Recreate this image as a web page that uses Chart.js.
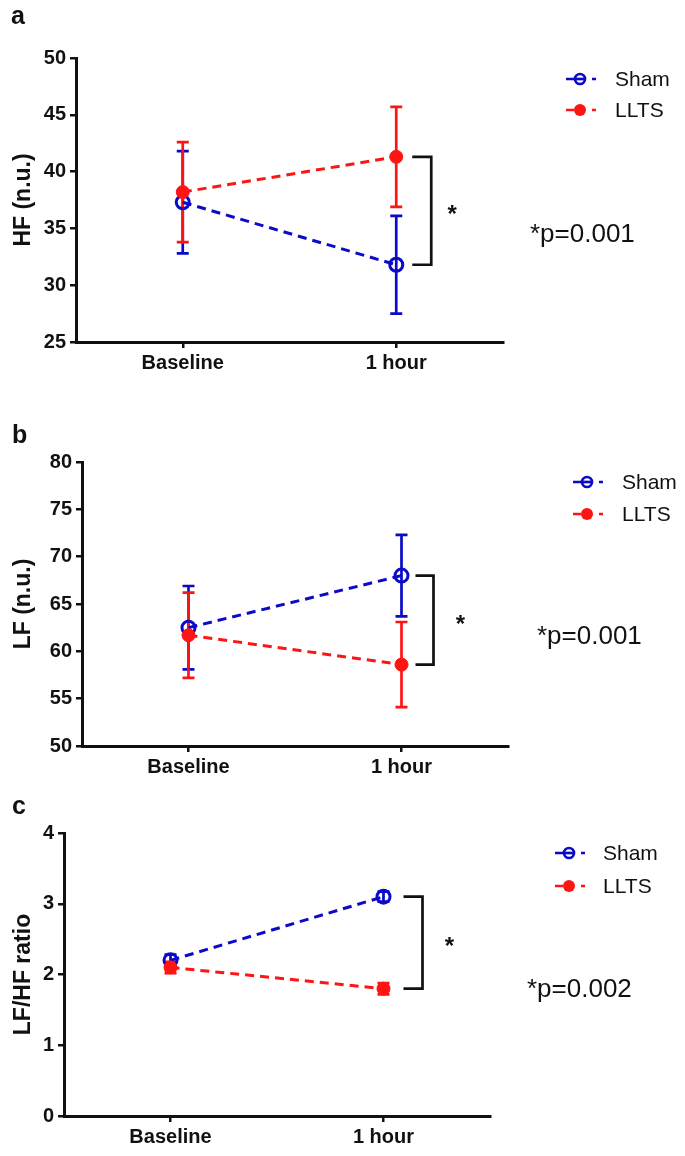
<!DOCTYPE html>
<html>
<head>
<meta charset="utf-8">
<script src="https://cdn.jsdelivr.net/npm/chart.js@4.4.0/dist/chart.umd.min.js"></script>
<style>
  body { margin: 0; background: #fff; width: 685px; height: 1156px; position: relative; overflow: hidden; }
  canvas { position: absolute; left: 0; }
</style>
</head>
<body>
<canvas id="chartA" width="685" height="380" style="top:0px"></canvas>
<canvas id="chartB" width="685" height="400" style="top:380px"></canvas>
<canvas id="chartC" width="685" height="376" style="top:780px"></canvas>
<script>
// Data (mean +/- error)
const timepoints = ['Baseline', '1 hour'];

const hfSham = [37.3, 31.8];
const hfShamErr = [4.5, 4.3];
const hfLlts = [38.2, 41.3];
const hfLltsErr = [4.4, 4.4];

const lfSham = [62.5, 68.0];
const lfShamErr = [4.4, 4.3];
const lfLlts = [61.7, 58.6];
const lfLltsErr = [4.5, 4.5];

const ratioSham = [2.2, 3.1];
const ratioShamErr = [0.08, 0.07];
const ratioLlts = [2.1, 1.8];
const ratioLltsErr = [0.08, 0.08];

const pValues = ['*p=0.001', '*p=0.001', '*p=0.002'];

const BLUE = '#0a0ac8';
const RED = '#ff1414';
const INK = '#111';
const FONT = "'Liberation Sans', Arial, sans-serif";

// error bars, bracket, legend, p value, panel letter
const extrasPlugin = {
    id: 'extras',
    beforeDatasetsDraw(chart) {
        const ctx = chart.ctx;
        const yScale = chart.scales.y;
        chart.data.datasets.forEach((ds, i) => {
            const meta = chart.getDatasetMeta(i);
            ctx.save();
            ctx.strokeStyle = ds.borderColor;
            ctx.lineWidth = 2.7;
            meta.data.forEach((pt, j) => {
                const top = yScale.getPixelForValue(ds.data[j] + ds.errors[j]);
                const bot = yScale.getPixelForValue(ds.data[j] - ds.errors[j]);
                ctx.beginPath();
                ctx.moveTo(pt.x, top); ctx.lineTo(pt.x, bot);
                ctx.moveTo(pt.x - 6, top); ctx.lineTo(pt.x + 6, top);
                ctx.moveTo(pt.x - 6, bot); ctx.lineTo(pt.x + 6, bot);
                ctx.stroke();
            });
            ctx.restore();
        });
    },
    afterDraw(chart, args, opts) {
        const ctx = chart.ctx;
        const yScale = chart.scales.y;
        const sham = chart.data.datasets[0];
        const llts = chart.data.datasets[1];
        const x1 = chart.getDatasetMeta(0).data[1].x;
        const yA = yScale.getPixelForValue(sham.data[1]);
        const yB = yScale.getPixelForValue(llts.data[1]);

        ctx.save();
        // significance bracket
        ctx.strokeStyle = INK;
        ctx.lineWidth = 2.7;
        ctx.beginPath();
        ctx.moveTo(x1 + opts.bracket[0], yA);
        ctx.lineTo(x1 + opts.bracket[1], yA);
        ctx.lineTo(x1 + opts.bracket[1], yB);
        ctx.lineTo(x1 + opts.bracket[0], yB);
        ctx.stroke();
        ctx.fillStyle = INK;
        ctx.font = 'bold 24px ' + FONT;
        ctx.textAlign = 'center';
        ctx.textBaseline = 'middle';
        ctx.fillText('*', x1 + opts.bracket[2], (yA + yB) / 2 + 5);

        // legend
        const lg = opts.legend;
        const rows = [
            { label: sham.label, color: BLUE, open: true, y: lg.y[0] },
            { label: llts.label, color: RED, open: false, y: lg.y[1] }
        ];
        rows.forEach(r => {
            ctx.strokeStyle = r.color;
            ctx.fillStyle = r.color;
            ctx.lineWidth = 2.7;
            ctx.beginPath();
            ctx.moveTo(lg.x - 14, r.y); ctx.lineTo(lg.x - 6, r.y);
            ctx.moveTo(lg.x + 12, r.y); ctx.lineTo(lg.x + 16, r.y);
            ctx.stroke();
            ctx.beginPath();
            if (r.open) {
                ctx.arc(lg.x, r.y, 5, 0, Math.PI * 2);
                ctx.stroke();
                ctx.beginPath();
                ctx.moveTo(lg.x - 5, r.y); ctx.lineTo(lg.x + 5, r.y);
                ctx.stroke();
            } else {
                ctx.arc(lg.x, r.y, 6, 0, Math.PI * 2);
                ctx.fill();
            }
            ctx.fillStyle = INK;
            ctx.font = '21px ' + FONT;
            ctx.textAlign = 'left';
            ctx.textBaseline = 'middle';
            ctx.fillText(r.label, lg.textX, r.y + 1);
        });

        // p value
        ctx.fillStyle = INK;
        ctx.font = '26px ' + FONT;
        ctx.textAlign = 'left';
        ctx.textBaseline = 'middle';
        ctx.fillText(opts.pText, opts.pPos[0], opts.pPos[1]);

        // panel letter
        ctx.font = 'bold 25px ' + FONT;
        ctx.fillText(opts.letter, opts.letterPos[0], opts.letterPos[1]);
        ctx.restore();
    }
};

function makePanel(id, p) {
    const ctx = document.getElementById(id).getContext('2d');
    return new Chart(ctx, {
        type: 'line',
        data: {
            labels: timepoints,
            datasets: [{
                label: 'Sham',
                data: p.sham,
                errors: p.shamErr,
                borderColor: BLUE,
                backgroundColor: 'rgba(0,0,0,0)',
                pointBorderColor: BLUE,
                pointBackgroundColor: 'rgba(0,0,0,0)',
                pointRadius: 6.5,
                pointBorderWidth: 3,
                borderWidth: 3,
                borderDash: [9, 6],
                fill: false,
                order: 1
            }, {
                label: 'LLTS',
                data: p.llts,
                errors: p.lltsErr,
                borderColor: RED,
                backgroundColor: RED,
                pointBorderColor: RED,
                pointBackgroundColor: RED,
                pointRadius: 6.5,
                pointBorderWidth: 1,
                borderWidth: 3,
                borderDash: [9, 6],
                fill: false,
                order: 0
            }]
        },
        options: {
            responsive: false,
            animation: false,
            events: [],
            layout: { padding: { left: 0, top: p.top, right: p.right, bottom: 0 } },
            plugins: {
                legend: { display: false },
                tooltip: { enabled: false },
                extras: {
                    bracket: p.bracket,
                    legend: p.legend,
                    pText: p.pText,
                    pPos: p.pPos,
                    letter: p.letter,
                    letterPos: p.letterPos
                }
            },
            scales: {
                x: {
                    type: 'category',
                    offset: true,
                    afterFit: s => { s.height = p.xHeight; },
                    border: { display: true, color: INK, width: 3 },
                    grid: { drawOnChartArea: false, drawTicks: true, tickLength: 6, color: INK, lineWidth: 2.5 },
                    ticks: { color: INK, padding: 3, font: { family: FONT, size: 20, weight: 'bold' } }
                },
                y: {
                    min: p.yMin,
                    max: p.yMax,
                    afterFit: s => { s.width = p.left; },
                    border: { display: true, color: INK, width: 3 },
                    grid: { drawOnChartArea: false, drawTicks: true, tickLength: 6, color: INK, lineWidth: 2.5 },
                    ticks: { stepSize: p.yStep, color: INK, padding: 4, font: { family: FONT, size: 20, weight: 'bold' } },
                    title: {
                        display: true,
                        text: p.yTitle,
                        color: INK,
                        padding: { top: 10, bottom: 0 },
                        font: { family: FONT, size: 23, weight: 'bold' }
                    }
                }
            }
        },
        plugins: [extrasPlugin]
    });
}

makePanel('chartA', {
    sham: hfSham, shamErr: hfShamErr, llts: hfLlts, lltsErr: hfLltsErr,
    yMin: 25, yMax: 50, yStep: 5, yTitle: 'HF (n.u.)',
    left: 76, top: 58, right: 182, xHeight: 38,
    bracket: [16, 35, 56],
    legend: { x: 580, textX: 615, y: [79, 110] },
    pText: pValues[0], pPos: [530, 235],
    letter: 'a', letterPos: [11, 17]
});

makePanel('chartB', {
    sham: lfSham, shamErr: lfShamErr, llts: lfLlts, lltsErr: lfLltsErr,
    yMin: 50, yMax: 80, yStep: 5, yTitle: 'LF (n.u.)',
    left: 82, top: 82, right: 177, xHeight: 34,
    bracket: [14, 32, 59],
    legend: { x: 587, textX: 622, y: [102, 134] },
    pText: pValues[1], pPos: [537, 257],
    letter: 'b', letterPos: [12, 56]
});

makePanel('chartC', {
    sham: ratioSham, shamErr: ratioShamErr, llts: ratioLlts, lltsErr: ratioLltsErr,
    yMin: 0, yMax: 4, yStep: 1, yTitle: 'LF/HF ratio',
    left: 64, top: 53, right: 195, xHeight: 40,
    bracket: [20, 39, 66],
    legend: { x: 569, textX: 603, y: [73, 106] },
    pText: pValues[2], pPos: [527, 210],
    letter: 'c', letterPos: [12, 27]
});
</script>
</body>
</html>
